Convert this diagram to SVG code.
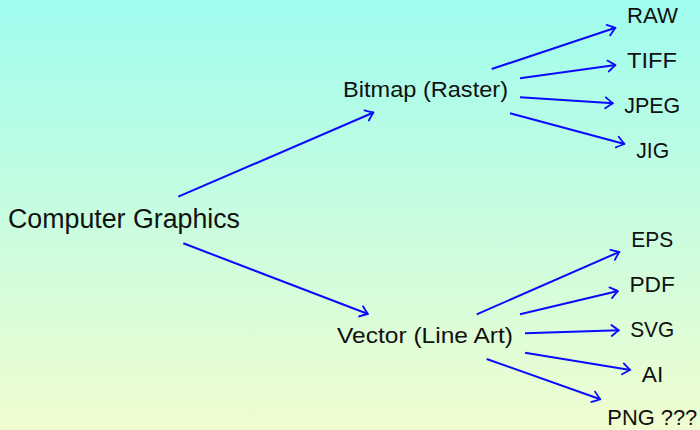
<svg xmlns="http://www.w3.org/2000/svg" width="700" height="430" viewBox="0 0 700 430">
  <defs>
    <linearGradient id="bg" x1="0" y1="0" x2="0" y2="1">
      <stop offset="0" stop-color="#9ffcef"/>
      <stop offset="1" stop-color="#f0fdd0"/>
    </linearGradient>
    <marker id="to" markerUnits="userSpaceOnUse" markerWidth="20" markerHeight="20" viewBox="-10 -10 20 20" refX="0" refY="0" orient="auto" overflow="visible">
      <path d="M -7.5 -5.5 Q -2 -1.2 0 0 Q -2 1.2 -7.5 5.5" fill="none" stroke="#0a0aff" stroke-width="1.8" stroke-linecap="round" stroke-linejoin="round"/>
    </marker>
    <style>
      .lbl { font-family: "Liberation Sans", Arial, sans-serif; font-size: 22.5px; fill: #111; text-anchor: middle; }
      .root { font-size: 26.8px; }
      .edge { stroke: #0a0aff; stroke-width: 2; fill: none; marker-end: url(#to); }
    </style>
  </defs>

  <rect x="0" y="0" width="700" height="430" fill="url(#bg)"/>

  <g id="connectors">
    <line class="edge" x1="178.3" y1="196.7" x2="373.5" y2="112.5"/>
    <line class="edge" x1="183.3" y1="243.3" x2="368" y2="314"/>

    <line class="edge" x1="491.7" y1="69" x2="615.5" y2="27.8"/>
    <line class="edge" x1="520" y1="78.3" x2="615.5" y2="65"/>
    <line class="edge" x1="520" y1="97.3" x2="613" y2="103.3"/>
    <line class="edge" x1="510" y1="113.3" x2="624.5" y2="144"/>

    <line class="edge" x1="476.7" y1="314.3" x2="619.5" y2="251.8"/>
    <line class="edge" x1="520" y1="314.3" x2="618" y2="291"/>
    <line class="edge" x1="525" y1="333.3" x2="619" y2="330.2"/>
    <line class="edge" x1="525" y1="352.7" x2="630.3" y2="370"/>
    <line class="edge" x1="486.7" y1="359" x2="600.3" y2="399.3"/>
  </g>

  <g id="computer-graphics"><text class="lbl root" x="124" y="227.7" textLength="232" lengthAdjust="spacingAndGlyphs">Computer Graphics</text></g>

  <g id="bitmap"><text class="lbl" x="425.5" y="96.7" textLength="165" lengthAdjust="spacingAndGlyphs">Bitmap (Raster)</text></g>
  <g id="vector"><text class="lbl" x="425" y="343.3" textLength="176" lengthAdjust="spacingAndGlyphs">Vector (Line Art)</text></g>

  <g id="raw"><text class="lbl" x="652.5" y="23.3" textLength="51" lengthAdjust="spacingAndGlyphs">RAW</text></g>
  <g id="tiff"><text class="lbl" x="652" y="68.3" textLength="50" lengthAdjust="spacingAndGlyphs">TIFF</text></g>
  <g id="jpeg"><text class="lbl" x="652.3" y="113.3" textLength="56" lengthAdjust="spacingAndGlyphs">JPEG</text></g>
  <g id="jig"><text class="lbl" x="652.7" y="158.3" textLength="33" lengthAdjust="spacingAndGlyphs">JIG</text></g>

  <g id="eps"><text class="lbl" x="652.2" y="246.7" textLength="42" lengthAdjust="spacingAndGlyphs">EPS</text></g>
  <g id="pdf"><text class="lbl" x="652.2" y="291.7" textLength="45.5" lengthAdjust="spacingAndGlyphs">PDF</text></g>
  <g id="svg"><text class="lbl" x="652.2" y="336.7" textLength="44" lengthAdjust="spacingAndGlyphs">SVG</text></g>
  <g id="ai"><text class="lbl" x="652.5" y="381.7" textLength="21.5" lengthAdjust="spacingAndGlyphs">AI</text></g>
  <g id="png"><text class="lbl" x="652.3" y="424.5" textLength="90" lengthAdjust="spacingAndGlyphs">PNG ???</text></g>
</svg>
